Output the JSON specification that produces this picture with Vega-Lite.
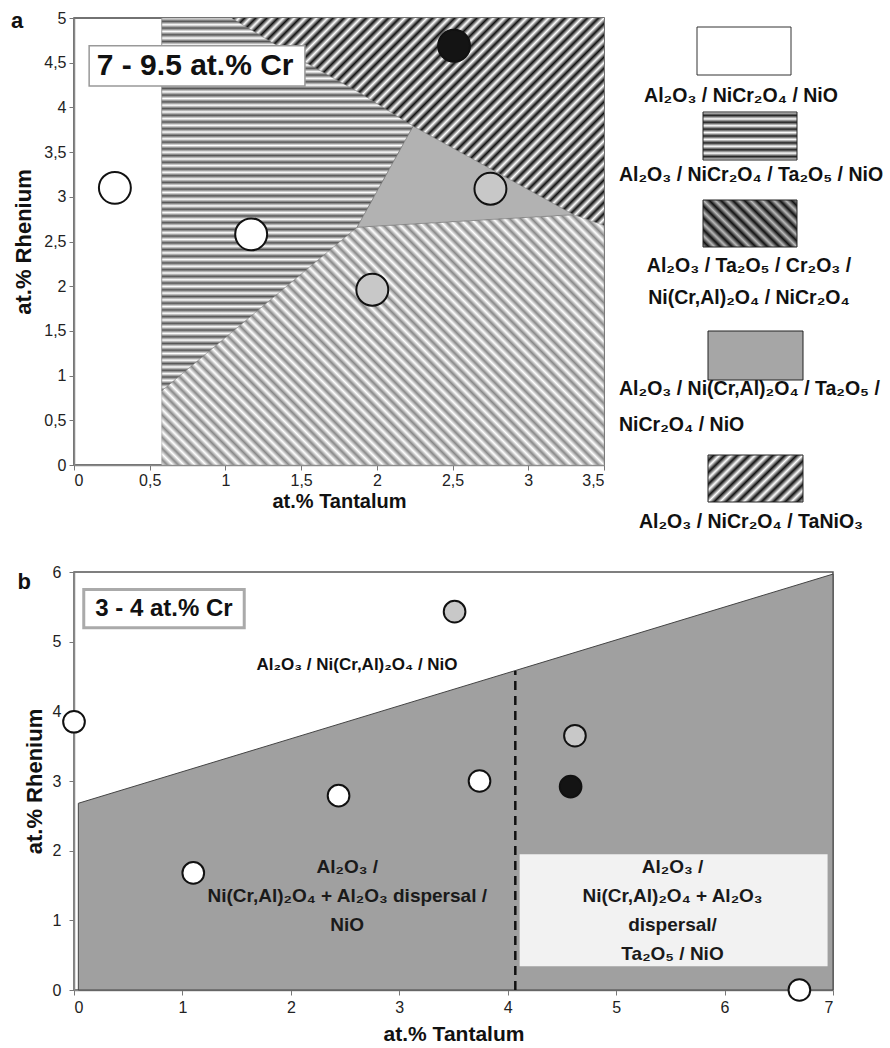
{
  "$schema": "https://vega.github.io/schema/vega-lite/v6.json",
  "background": "white",
  "padding": {"left": 10, "top": 8, "right": 0, "bottom": 0},
  "config": {
    "font": "Liberation Sans",
    "view": {"stroke": "#555", "strokeWidth": 1.5},
    "axis": {"grid": false, "domainColor": "#888", "domainWidth": 1.5, "tickColor": "#777", "tickSize": 5, "labelFont": "Liberation Sans", "labelFontSize": 16, "labelColor": "#222", "titleFont": "Liberation Sans", "titleFontWeight": "bold", "titleColor": "#111"}
  },
  "datasets": {
    "aBack": [{"zone": "Al2O3 / NiCr2O4 / TaNiO3", "x": 0.58, "x2": 3.5, "y": 0, "y2": 5}],
    "aZones": [
      {"zone": "grey", "i": 1, "x": 0.58, "y": 0},
      {"zone": "grey", "i": 2, "x": 3.5, "y": 0},
      {"zone": "grey", "i": 3, "x": 3.5, "y": 2.68},
      {"zone": "grey", "i": 4, "x": 3.3, "y": 2.8},
      {"zone": "grey", "i": 5, "x": 1.87, "y": 2.66},
      {"zone": "grey", "i": 6, "x": 0.58, "y": 5},
      {"zone": "horiz", "i": 1, "x": 0.58, "y": 5},
      {"zone": "horiz", "i": 2, "x": 1.04, "y": 5},
      {"zone": "horiz", "i": 3, "x": 1.5, "y": 4.53},
      {"zone": "horiz", "i": 4, "x": 1.9, "y": 4.15},
      {"zone": "horiz", "i": 5, "x": 2.24, "y": 3.79},
      {"zone": "horiz", "i": 6, "x": 1.87, "y": 2.66},
      {"zone": "horiz", "i": 7, "x": 0.58, "y": 0.83},
      {"zone": "stipple", "i": 1, "x": 1.87, "y": 2.66},
      {"zone": "stipple", "i": 2, "x": 2.24, "y": 3.79},
      {"zone": "stipple", "i": 3, "x": 3.3, "y": 2.8}
    ],
    "aPoints": [
      {"x": 0.27, "y": 3.1, "marker": "open"},
      {"x": 1.17, "y": 2.58, "marker": "open"},
      {"x": 1.97, "y": 1.96, "marker": "shaded"},
      {"x": 2.75, "y": 3.09, "marker": "shaded"},
      {"x": 2.51, "y": 4.69, "marker": "solid"}
    ],
    "bZones": [
      {"i": 1, "x": 0.04, "y": 0},
      {"i": 2, "x": 0.04, "y": 2.68},
      {"i": 3, "x": 7, "y": 5.97},
      {"i": 4, "x": 7, "y": 0}
    ],
    "bPoints": [
      {"x": 0, "y": 3.85, "marker": "open"},
      {"x": 1.1, "y": 1.68, "marker": "open"},
      {"x": 2.44, "y": 2.79, "marker": "open"},
      {"x": 3.74, "y": 3.0, "marker": "open"},
      {"x": 3.51, "y": 5.43, "marker": "shaded"},
      {"x": 4.62, "y": 3.65, "marker": "shaded"},
      {"x": 4.58, "y": 2.92, "marker": "solid"},
      {"x": 6.69, "y": 0, "marker": "open"}
    ],
    "legendSwatches": [
      {"sw": "s1", "x": 81, "x2": 175, "y": 9, "y2": 57},
      {"sw": "s2", "x": 87, "x2": 181, "y": 94, "y2": 142},
      {"sw": "s3", "x": 87, "x2": 181, "y": 182, "y2": 229},
      {"sw": "s4", "x": 92, "x2": 187, "y": 313, "y2": 362},
      {"sw": "s5", "x": 92, "x2": 187, "y": 437, "y2": 484}
    ],
    "legendLabels": [
      {"x": 125, "y": 78, "label": "Al₂O₃ / NiCr₂O₄ / NiO"},
      {"x": 135, "y": 157, "label": "Al₂O₃ / NiCr₂O₄ / Ta₂O₅ / NiO"},
      {"x": 133, "y": 248, "label": "Al₂O₃ / Ta₂O₅ / Cr₂O₃ /\nNi(Cr,Al)₂O₄ / NiCr₂O₄"},
      {"x": 135, "y": 504, "label": "Al₂O₃ / NiCr₂O₄ / TaNiO₃"}
    ],
    "legendLabelsLeft": [
      {"x": 3, "y": 371, "label": "Al₂O₃ / Ni(Cr,Al)₂O₄ / Ta₂O₅ /\nNiCr₂O₄ / NiO"}
    ]
  },
  "resolve": {"scale": {"x": "independent", "y": "independent"}},
  "spacing": 31,
  "vconcat": [
    {
      "resolve": {"scale": {"x": "independent", "y": "independent"}},
      "spacing": 10,
      "hconcat": [
        {
          "width": 530,
          "height": 447,
          "view": {"stroke": "#444", "strokeWidth": 1.5},
          "encoding": {
            "x": {"field": "x", "type": "quantitative", "scale": {"domain": [0, 3.5], "nice": false, "zero": false}, "axis": {"title": "at.% Tantalum", "values": [0, 0.5, 1, 1.5, 2, 2.5, 3, 3.5], "labelExpr": "replace(format(datum.value, '~g'), '.', ',')", "titleFontSize": 20, "titlePadding": 3, "labelPadding": 2}},
            "y": {"field": "y", "type": "quantitative", "scale": {"domain": [0, 5], "nice": false, "zero": false}, "axis": {"title": "at.% Rhenium", "values": [0, 0.5, 1, 1.5, 2, 2.5, 3, 3.5, 4, 4.5, 5], "labelExpr": "replace(format(datum.value, '~g'), '.', ',')", "titleFontSize": 22, "titlePadding": 8, "labelPadding": 3}}
          },
          "layer": [
            {
              "data": {"name": "aBack"},
              "mark": {"type": "rect", "fill": {"gradient": "linear", "x1": 0, "y1": 0, "x2": 1, "y2": 1, "stops": [
                {"offset":0,"color":"#fff"},{"offset":0.00625,"color":"#111"},{"offset":0.0125,"color":"#fff"},{"offset":0.01875,"color":"#111"},{"offset":0.025,"color":"#fff"},{"offset":0.03125,"color":"#111"},{"offset":0.0375,"color":"#fff"},{"offset":0.04375,"color":"#111"},
                {"offset":0.05,"color":"#fff"},{"offset":0.05625,"color":"#111"},{"offset":0.0625,"color":"#fff"},{"offset":0.06875,"color":"#111"},{"offset":0.075,"color":"#fff"},{"offset":0.08125,"color":"#111"},{"offset":0.0875,"color":"#fff"},{"offset":0.09375,"color":"#111"},
                {"offset":0.1,"color":"#fff"},{"offset":0.10625,"color":"#111"},{"offset":0.1125,"color":"#fff"},{"offset":0.11875,"color":"#111"},{"offset":0.125,"color":"#fff"},{"offset":0.13125,"color":"#111"},{"offset":0.1375,"color":"#fff"},{"offset":0.14375,"color":"#111"},
                {"offset":0.15,"color":"#fff"},{"offset":0.15625,"color":"#111"},{"offset":0.1625,"color":"#fff"},{"offset":0.16875,"color":"#111"},{"offset":0.175,"color":"#fff"},{"offset":0.18125,"color":"#111"},{"offset":0.1875,"color":"#fff"},{"offset":0.19375,"color":"#111"},
                {"offset":0.2,"color":"#fff"},{"offset":0.20625,"color":"#111"},{"offset":0.2125,"color":"#fff"},{"offset":0.21875,"color":"#111"},{"offset":0.225,"color":"#fff"},{"offset":0.23125,"color":"#111"},{"offset":0.2375,"color":"#fff"},{"offset":0.24375,"color":"#111"},
                {"offset":0.25,"color":"#fff"},{"offset":0.25625,"color":"#111"},{"offset":0.2625,"color":"#fff"},{"offset":0.26875,"color":"#111"},{"offset":0.275,"color":"#fff"},{"offset":0.28125,"color":"#111"},{"offset":0.2875,"color":"#fff"},{"offset":0.29375,"color":"#111"},
                {"offset":0.3,"color":"#fff"},{"offset":0.30625,"color":"#111"},{"offset":0.3125,"color":"#fff"},{"offset":0.31875,"color":"#111"},{"offset":0.325,"color":"#fff"},{"offset":0.33125,"color":"#111"},{"offset":0.3375,"color":"#fff"},{"offset":0.34375,"color":"#111"},
                {"offset":0.35,"color":"#fff"},{"offset":0.35625,"color":"#111"},{"offset":0.3625,"color":"#fff"},{"offset":0.36875,"color":"#111"},{"offset":0.375,"color":"#fff"},{"offset":0.38125,"color":"#111"},{"offset":0.3875,"color":"#fff"},{"offset":0.39375,"color":"#111"},
                {"offset":0.4,"color":"#fff"},{"offset":0.40625,"color":"#111"},{"offset":0.4125,"color":"#fff"},{"offset":0.41875,"color":"#111"},{"offset":0.425,"color":"#fff"},{"offset":0.43125,"color":"#111"},{"offset":0.4375,"color":"#fff"},{"offset":0.44375,"color":"#111"},
                {"offset":0.45,"color":"#fff"},{"offset":0.45625,"color":"#111"},{"offset":0.4625,"color":"#fff"},{"offset":0.46875,"color":"#111"},{"offset":0.475,"color":"#fff"},{"offset":0.48125,"color":"#111"},{"offset":0.4875,"color":"#fff"},{"offset":0.49375,"color":"#111"},
                {"offset":0.5,"color":"#fff"},{"offset":0.50625,"color":"#111"},{"offset":0.5125,"color":"#fff"},{"offset":0.51875,"color":"#111"},{"offset":0.525,"color":"#fff"},{"offset":0.53125,"color":"#111"},{"offset":0.5375,"color":"#fff"},{"offset":0.54375,"color":"#111"},
                {"offset":0.55,"color":"#fff"},{"offset":0.55625,"color":"#111"},{"offset":0.5625,"color":"#fff"},{"offset":0.56875,"color":"#111"},{"offset":0.575,"color":"#fff"},{"offset":0.58125,"color":"#111"},{"offset":0.5875,"color":"#fff"},{"offset":0.59375,"color":"#111"},
                {"offset":0.6,"color":"#fff"},{"offset":0.60625,"color":"#111"},{"offset":0.6125,"color":"#fff"},{"offset":0.61875,"color":"#111"},{"offset":0.625,"color":"#fff"},{"offset":0.63125,"color":"#111"},{"offset":0.6375,"color":"#fff"},{"offset":0.64375,"color":"#111"},
                {"offset":0.65,"color":"#fff"},{"offset":0.65625,"color":"#111"},{"offset":0.6625,"color":"#fff"},{"offset":0.66875,"color":"#111"},{"offset":0.675,"color":"#fff"},{"offset":0.68125,"color":"#111"},{"offset":0.6875,"color":"#fff"},{"offset":0.69375,"color":"#111"},
                {"offset":0.7,"color":"#fff"},{"offset":0.70625,"color":"#111"},{"offset":0.7125,"color":"#fff"},{"offset":0.71875,"color":"#111"},{"offset":0.725,"color":"#fff"},{"offset":0.73125,"color":"#111"},{"offset":0.7375,"color":"#fff"},{"offset":0.74375,"color":"#111"},
                {"offset":0.75,"color":"#fff"},{"offset":0.75625,"color":"#111"},{"offset":0.7625,"color":"#fff"},{"offset":0.76875,"color":"#111"},{"offset":0.775,"color":"#fff"},{"offset":0.78125,"color":"#111"},{"offset":0.7875,"color":"#fff"},{"offset":0.79375,"color":"#111"},
                {"offset":0.8,"color":"#fff"},{"offset":0.80625,"color":"#111"},{"offset":0.8125,"color":"#fff"},{"offset":0.81875,"color":"#111"},{"offset":0.825,"color":"#fff"},{"offset":0.83125,"color":"#111"},{"offset":0.8375,"color":"#fff"},{"offset":0.84375,"color":"#111"},
                {"offset":0.85,"color":"#fff"},{"offset":0.85625,"color":"#111"},{"offset":0.8625,"color":"#fff"},{"offset":0.86875,"color":"#111"},{"offset":0.875,"color":"#fff"},{"offset":0.88125,"color":"#111"},{"offset":0.8875,"color":"#fff"},{"offset":0.89375,"color":"#111"},
                {"offset":0.9,"color":"#fff"},{"offset":0.90625,"color":"#111"},{"offset":0.9125,"color":"#fff"},{"offset":0.91875,"color":"#111"},{"offset":0.925,"color":"#fff"},{"offset":0.93125,"color":"#111"},{"offset":0.9375,"color":"#fff"},{"offset":0.94375,"color":"#111"},
                {"offset":0.95,"color":"#fff"},{"offset":0.95625,"color":"#111"},{"offset":0.9625,"color":"#fff"},{"offset":0.96875,"color":"#111"},{"offset":0.975,"color":"#fff"},{"offset":0.98125,"color":"#111"},{"offset":0.9875,"color":"#fff"},{"offset":0.99375,"color":"#111"},
                {"offset":1,"color":"#fff"}
              ]}},
              "encoding": {"x2": {"field": "x2"}, "y2": {"field": "y2"}}
            },
            {
              "data": {"name": "aZones"},
              "transform": [{"filter": "datum.zone === 'grey'"}],
              "mark": {"type": "line", "interpolate": "linear-closed", "stroke": "#999", "strokeWidth": 0.5, "fill": {"gradient": "linear", "x1": 0, "y1": 1, "x2": 1, "y2": 0, "stops": [
                {"offset":0,"color":"#fff"},{"offset":0.00625,"color":"#888"},{"offset":0.0125,"color":"#fff"},{"offset":0.01875,"color":"#888"},{"offset":0.025,"color":"#fff"},{"offset":0.03125,"color":"#888"},{"offset":0.0375,"color":"#fff"},{"offset":0.04375,"color":"#888"},
                {"offset":0.05,"color":"#fff"},{"offset":0.05625,"color":"#888"},{"offset":0.0625,"color":"#fff"},{"offset":0.06875,"color":"#888"},{"offset":0.075,"color":"#fff"},{"offset":0.08125,"color":"#888"},{"offset":0.0875,"color":"#fff"},{"offset":0.09375,"color":"#888"},
                {"offset":0.1,"color":"#fff"},{"offset":0.10625,"color":"#888"},{"offset":0.1125,"color":"#fff"},{"offset":0.11875,"color":"#888"},{"offset":0.125,"color":"#fff"},{"offset":0.13125,"color":"#888"},{"offset":0.1375,"color":"#fff"},{"offset":0.14375,"color":"#888"},
                {"offset":0.15,"color":"#fff"},{"offset":0.15625,"color":"#888"},{"offset":0.1625,"color":"#fff"},{"offset":0.16875,"color":"#888"},{"offset":0.175,"color":"#fff"},{"offset":0.18125,"color":"#888"},{"offset":0.1875,"color":"#fff"},{"offset":0.19375,"color":"#888"},
                {"offset":0.2,"color":"#fff"},{"offset":0.20625,"color":"#888"},{"offset":0.2125,"color":"#fff"},{"offset":0.21875,"color":"#888"},{"offset":0.225,"color":"#fff"},{"offset":0.23125,"color":"#888"},{"offset":0.2375,"color":"#fff"},{"offset":0.24375,"color":"#888"},
                {"offset":0.25,"color":"#fff"},{"offset":0.25625,"color":"#888"},{"offset":0.2625,"color":"#fff"},{"offset":0.26875,"color":"#888"},{"offset":0.275,"color":"#fff"},{"offset":0.28125,"color":"#888"},{"offset":0.2875,"color":"#fff"},{"offset":0.29375,"color":"#888"},
                {"offset":0.3,"color":"#fff"},{"offset":0.30625,"color":"#888"},{"offset":0.3125,"color":"#fff"},{"offset":0.31875,"color":"#888"},{"offset":0.325,"color":"#fff"},{"offset":0.33125,"color":"#888"},{"offset":0.3375,"color":"#fff"},{"offset":0.34375,"color":"#888"},
                {"offset":0.35,"color":"#fff"},{"offset":0.35625,"color":"#888"},{"offset":0.3625,"color":"#fff"},{"offset":0.36875,"color":"#888"},{"offset":0.375,"color":"#fff"},{"offset":0.38125,"color":"#888"},{"offset":0.3875,"color":"#fff"},{"offset":0.39375,"color":"#888"},
                {"offset":0.4,"color":"#fff"},{"offset":0.40625,"color":"#888"},{"offset":0.4125,"color":"#fff"},{"offset":0.41875,"color":"#888"},{"offset":0.425,"color":"#fff"},{"offset":0.43125,"color":"#888"},{"offset":0.4375,"color":"#fff"},{"offset":0.44375,"color":"#888"},
                {"offset":0.45,"color":"#fff"},{"offset":0.45625,"color":"#888"},{"offset":0.4625,"color":"#fff"},{"offset":0.46875,"color":"#888"},{"offset":0.475,"color":"#fff"},{"offset":0.48125,"color":"#888"},{"offset":0.4875,"color":"#fff"},{"offset":0.49375,"color":"#888"},
                {"offset":0.5,"color":"#fff"},{"offset":0.50625,"color":"#888"},{"offset":0.5125,"color":"#fff"},{"offset":0.51875,"color":"#888"},{"offset":0.525,"color":"#fff"},{"offset":0.53125,"color":"#888"},{"offset":0.5375,"color":"#fff"},{"offset":0.54375,"color":"#888"},
                {"offset":0.55,"color":"#fff"},{"offset":0.55625,"color":"#888"},{"offset":0.5625,"color":"#fff"},{"offset":0.56875,"color":"#888"},{"offset":0.575,"color":"#fff"},{"offset":0.58125,"color":"#888"},{"offset":0.5875,"color":"#fff"},{"offset":0.59375,"color":"#888"},
                {"offset":0.6,"color":"#fff"},{"offset":0.60625,"color":"#888"},{"offset":0.6125,"color":"#fff"},{"offset":0.61875,"color":"#888"},{"offset":0.625,"color":"#fff"},{"offset":0.63125,"color":"#888"},{"offset":0.6375,"color":"#fff"},{"offset":0.64375,"color":"#888"},
                {"offset":0.65,"color":"#fff"},{"offset":0.65625,"color":"#888"},{"offset":0.6625,"color":"#fff"},{"offset":0.66875,"color":"#888"},{"offset":0.675,"color":"#fff"},{"offset":0.68125,"color":"#888"},{"offset":0.6875,"color":"#fff"},{"offset":0.69375,"color":"#888"},
                {"offset":0.7,"color":"#fff"},{"offset":0.70625,"color":"#888"},{"offset":0.7125,"color":"#fff"},{"offset":0.71875,"color":"#888"},{"offset":0.725,"color":"#fff"},{"offset":0.73125,"color":"#888"},{"offset":0.7375,"color":"#fff"},{"offset":0.74375,"color":"#888"},
                {"offset":0.75,"color":"#fff"},{"offset":0.75625,"color":"#888"},{"offset":0.7625,"color":"#fff"},{"offset":0.76875,"color":"#888"},{"offset":0.775,"color":"#fff"},{"offset":0.78125,"color":"#888"},{"offset":0.7875,"color":"#fff"},{"offset":0.79375,"color":"#888"},
                {"offset":0.8,"color":"#fff"},{"offset":0.80625,"color":"#888"},{"offset":0.8125,"color":"#fff"},{"offset":0.81875,"color":"#888"},{"offset":0.825,"color":"#fff"},{"offset":0.83125,"color":"#888"},{"offset":0.8375,"color":"#fff"},{"offset":0.84375,"color":"#888"},
                {"offset":0.85,"color":"#fff"},{"offset":0.85625,"color":"#888"},{"offset":0.8625,"color":"#fff"},{"offset":0.86875,"color":"#888"},{"offset":0.875,"color":"#fff"},{"offset":0.88125,"color":"#888"},{"offset":0.8875,"color":"#fff"},{"offset":0.89375,"color":"#888"},
                {"offset":0.9,"color":"#fff"},{"offset":0.90625,"color":"#888"},{"offset":0.9125,"color":"#fff"},{"offset":0.91875,"color":"#888"},{"offset":0.925,"color":"#fff"},{"offset":0.93125,"color":"#888"},{"offset":0.9375,"color":"#fff"},{"offset":0.94375,"color":"#888"},
                {"offset":0.95,"color":"#fff"},{"offset":0.95625,"color":"#888"},{"offset":0.9625,"color":"#fff"},{"offset":0.96875,"color":"#888"},{"offset":0.975,"color":"#fff"},{"offset":0.98125,"color":"#888"},{"offset":0.9875,"color":"#fff"},{"offset":0.99375,"color":"#888"},
                {"offset":1,"color":"#fff"}
              ]}},
              "encoding": {"order": {"field": "i", "type": "quantitative"}}
            },
            {
              "data": {"name": "aZones"},
              "transform": [{"filter": "datum.zone === 'horiz'"}],
              "mark": {"type": "line", "interpolate": "linear-closed", "stroke": "#777", "strokeWidth": 0.5, "fill": {"gradient": "linear", "x1": 0, "y1": 0, "x2": 0, "y2": 1, "stops": [
                {"offset":0,"color":"#fff"},{"offset":0.009,"color":"#555"},{"offset":0.018,"color":"#fff"},{"offset":0.027,"color":"#555"},{"offset":0.036,"color":"#fff"},{"offset":0.045,"color":"#555"},{"offset":0.054,"color":"#fff"},{"offset":0.063,"color":"#555"},{"offset":0.072,"color":"#fff"},{"offset":0.081,"color":"#555"},
                {"offset":0.09,"color":"#fff"},{"offset":0.099,"color":"#555"},{"offset":0.108,"color":"#fff"},{"offset":0.117,"color":"#555"},{"offset":0.126,"color":"#fff"},{"offset":0.135,"color":"#555"},{"offset":0.144,"color":"#fff"},{"offset":0.153,"color":"#555"},{"offset":0.162,"color":"#fff"},{"offset":0.171,"color":"#555"},
                {"offset":0.18,"color":"#fff"},{"offset":0.189,"color":"#555"},{"offset":0.198,"color":"#fff"},{"offset":0.207,"color":"#555"},{"offset":0.216,"color":"#fff"},{"offset":0.225,"color":"#555"},{"offset":0.234,"color":"#fff"},{"offset":0.243,"color":"#555"},{"offset":0.252,"color":"#fff"},{"offset":0.261,"color":"#555"},
                {"offset":0.27,"color":"#fff"},{"offset":0.279,"color":"#555"},{"offset":0.288,"color":"#fff"},{"offset":0.297,"color":"#555"},{"offset":0.306,"color":"#fff"},{"offset":0.315,"color":"#555"},{"offset":0.324,"color":"#fff"},{"offset":0.333,"color":"#555"},{"offset":0.342,"color":"#fff"},{"offset":0.351,"color":"#555"},
                {"offset":0.36,"color":"#fff"},{"offset":0.369,"color":"#555"},{"offset":0.378,"color":"#fff"},{"offset":0.387,"color":"#555"},{"offset":0.396,"color":"#fff"},{"offset":0.405,"color":"#555"},{"offset":0.414,"color":"#fff"},{"offset":0.423,"color":"#555"},{"offset":0.432,"color":"#fff"},{"offset":0.441,"color":"#555"},
                {"offset":0.45,"color":"#fff"},{"offset":0.459,"color":"#555"},{"offset":0.468,"color":"#fff"},{"offset":0.477,"color":"#555"},{"offset":0.486,"color":"#fff"},{"offset":0.495,"color":"#555"},{"offset":0.504,"color":"#fff"},{"offset":0.513,"color":"#555"},{"offset":0.522,"color":"#fff"},{"offset":0.531,"color":"#555"},
                {"offset":0.54,"color":"#fff"},{"offset":0.549,"color":"#555"},{"offset":0.558,"color":"#fff"},{"offset":0.567,"color":"#555"},{"offset":0.576,"color":"#fff"},{"offset":0.585,"color":"#555"},{"offset":0.594,"color":"#fff"},{"offset":0.603,"color":"#555"},{"offset":0.612,"color":"#fff"},{"offset":0.621,"color":"#555"},
                {"offset":0.63,"color":"#fff"},{"offset":0.639,"color":"#555"},{"offset":0.648,"color":"#fff"},{"offset":0.657,"color":"#555"},{"offset":0.666,"color":"#fff"},{"offset":0.675,"color":"#555"},{"offset":0.684,"color":"#fff"},{"offset":0.693,"color":"#555"},{"offset":0.702,"color":"#fff"},{"offset":0.711,"color":"#555"},
                {"offset":0.72,"color":"#fff"},{"offset":0.729,"color":"#555"},{"offset":0.738,"color":"#fff"},{"offset":0.747,"color":"#555"},{"offset":0.756,"color":"#fff"},{"offset":0.765,"color":"#555"},{"offset":0.774,"color":"#fff"},{"offset":0.783,"color":"#555"},{"offset":0.792,"color":"#fff"},{"offset":0.801,"color":"#555"},
                {"offset":0.81,"color":"#fff"},{"offset":0.819,"color":"#555"},{"offset":0.828,"color":"#fff"},{"offset":0.837,"color":"#555"},{"offset":0.846,"color":"#fff"},{"offset":0.855,"color":"#555"},{"offset":0.864,"color":"#fff"},{"offset":0.873,"color":"#555"},{"offset":0.882,"color":"#fff"},{"offset":0.891,"color":"#555"},
                {"offset":0.9,"color":"#fff"},{"offset":0.909,"color":"#555"},{"offset":0.918,"color":"#fff"},{"offset":0.927,"color":"#555"},{"offset":0.936,"color":"#fff"},{"offset":0.945,"color":"#555"},{"offset":0.954,"color":"#fff"},{"offset":0.963,"color":"#555"},{"offset":0.972,"color":"#fff"},{"offset":0.981,"color":"#555"},
                {"offset":0.99,"color":"#fff"},{"offset":0.999,"color":"#555"},{"offset":1,"color":"#555"}
              ]}},
              "encoding": {"order": {"field": "i", "type": "quantitative"}}
            },
            {
              "data": {"name": "aZones"},
              "transform": [{"filter": "datum.zone === 'stipple'"}],
              "mark": {"type": "line", "interpolate": "linear-closed", "stroke": "#777", "strokeWidth": 0.5, "fill": "#b2b2b2"},
              "encoding": {"order": {"field": "i", "type": "quantitative"}}
            },
            {
              "data": {"values": [{"x": 0.1, "x2": 1.525, "y": 4.24, "y2": 4.69}]},
              "mark": {"type": "rect", "fill": "#fff", "stroke": "#999", "strokeWidth": 1.5},
              "encoding": {"x2": {"field": "x2"}, "y2": {"field": "y2"}}
            },
            {
              "data": {"values": [{"x": 0.8, "y": 4.46, "label": "7 - 9.5 at.% Cr"}]},
              "mark": {"type": "text", "font": "Liberation Sans", "fontSize": 30, "fontWeight": "bold", "color": "#111", "align": "center", "baseline": "middle"},
              "encoding": {"text": {"field": "label"}}
            },
            {
              "data": {"name": "aPoints"},
              "mark": {"type": "point", "shape": "circle", "filled": true, "size": 1020, "stroke": "#111", "strokeWidth": 2, "opacity": 1},
              "encoding": {"fill": {"field": "marker", "type": "nominal", "scale": {"domain": ["open", "shaded", "solid"], "range": ["#ffffff", "#c8c8c8", "#141414"]}, "legend": null}}
            },
            {
              "data": {"values": [{"x": -0.376, "y": 4.97, "label": "a"}]},
              "mark": {"type": "text", "font": "Liberation Sans", "fontSize": 22, "fontWeight": "bold", "color": "#111", "align": "center", "baseline": "middle"},
              "encoding": {"text": {"field": "label"}}
            }
          ]
        },
        {
          "width": 275,
          "height": 447,
          "view": {"stroke": null},
          "encoding": {
            "x": {"field": "x", "type": "quantitative", "scale": {"domain": [0, 275], "nice": false, "zero": false}, "axis": null},
            "y": {"field": "y", "type": "quantitative", "scale": {"domain": [0, 447], "reverse": true, "nice": false, "zero": false}, "axis": null}
          },
          "layer": [
            {
              "data": {"name": "legendSwatches"},
              "transform": [{"filter": "datum.sw === 's1'"}],
              "mark": {"type": "rect", "fill": "#fff", "stroke": "#333", "strokeWidth": 1},
              "encoding": {"x2": {"field": "x2"}, "y2": {"field": "y2"}}
            },
            {
              "data": {"name": "legendSwatches"},
              "transform": [{"filter": "datum.sw === 's2'"}],
              "mark": {"type": "rect", "stroke": "#222", "strokeWidth": 1, "fill": {"gradient": "linear", "x1": 0, "y1": 0, "x2": 0, "y2": 1, "stops": [
                {"offset":0,"color":"#fff"},{"offset":0.071,"color":"#222"},{"offset":0.143,"color":"#fff"},{"offset":0.214,"color":"#222"},{"offset":0.286,"color":"#fff"},{"offset":0.357,"color":"#222"},{"offset":0.429,"color":"#fff"},{"offset":0.5,"color":"#222"},{"offset":0.571,"color":"#fff"},{"offset":0.643,"color":"#222"},{"offset":0.714,"color":"#fff"},{"offset":0.786,"color":"#222"},{"offset":0.857,"color":"#fff"},{"offset":0.929,"color":"#222"},{"offset":1,"color":"#fff"}
              ]}},
              "encoding": {"x2": {"field": "x2"}, "y2": {"field": "y2"}}
            },
            {
              "data": {"name": "legendSwatches"},
              "transform": [{"filter": "datum.sw === 's3'"}],
              "mark": {"type": "rect", "stroke": "#222", "strokeWidth": 1, "fill": {"gradient": "linear", "x1": 0, "y1": 1, "x2": 1.2, "y2": 0.4, "stops": [
                {"offset":0,"color":"#bbb"},{"offset":0.042,"color":"#111"},{"offset":0.083,"color":"#bbb"},{"offset":0.125,"color":"#111"},{"offset":0.167,"color":"#bbb"},{"offset":0.208,"color":"#111"},{"offset":0.25,"color":"#bbb"},{"offset":0.292,"color":"#111"},{"offset":0.333,"color":"#bbb"},{"offset":0.375,"color":"#111"},{"offset":0.417,"color":"#bbb"},{"offset":0.458,"color":"#111"},{"offset":0.5,"color":"#bbb"},{"offset":0.542,"color":"#111"},{"offset":0.583,"color":"#bbb"},{"offset":0.625,"color":"#111"},{"offset":0.667,"color":"#bbb"},{"offset":0.708,"color":"#111"},{"offset":0.75,"color":"#bbb"},{"offset":0.792,"color":"#111"},{"offset":0.833,"color":"#bbb"},{"offset":0.875,"color":"#111"},{"offset":0.917,"color":"#bbb"},{"offset":0.958,"color":"#111"},{"offset":1,"color":"#bbb"}
              ]}},
              "encoding": {"x2": {"field": "x2"}, "y2": {"field": "y2"}}
            },
            {
              "data": {"name": "legendSwatches"},
              "transform": [{"filter": "datum.sw === 's4'"}],
              "mark": {"type": "rect", "fill": "#a6a6a6", "stroke": "#222", "strokeWidth": 1},
              "encoding": {"x2": {"field": "x2"}, "y2": {"field": "y2"}}
            },
            {
              "data": {"name": "legendSwatches"},
              "transform": [{"filter": "datum.sw === 's5'"}],
              "mark": {"type": "rect", "stroke": "#222", "strokeWidth": 1, "fill": {"gradient": "linear", "x1": 0, "y1": 0, "x2": 1.2, "y2": 0.6, "stops": [
                {"offset":0,"color":"#fff"},{"offset":0.042,"color":"#111"},{"offset":0.083,"color":"#fff"},{"offset":0.125,"color":"#111"},{"offset":0.167,"color":"#fff"},{"offset":0.208,"color":"#111"},{"offset":0.25,"color":"#fff"},{"offset":0.292,"color":"#111"},{"offset":0.333,"color":"#fff"},{"offset":0.375,"color":"#111"},{"offset":0.417,"color":"#fff"},{"offset":0.458,"color":"#111"},{"offset":0.5,"color":"#fff"},{"offset":0.542,"color":"#111"},{"offset":0.583,"color":"#fff"},{"offset":0.625,"color":"#111"},{"offset":0.667,"color":"#fff"},{"offset":0.708,"color":"#111"},{"offset":0.75,"color":"#fff"},{"offset":0.792,"color":"#111"},{"offset":0.833,"color":"#fff"},{"offset":0.875,"color":"#111"},{"offset":0.917,"color":"#fff"},{"offset":0.958,"color":"#111"},{"offset":1,"color":"#fff"}
              ]}},
              "encoding": {"x2": {"field": "x2"}, "y2": {"field": "y2"}}
            },
            {
              "data": {"name": "legendLabels"},
              "mark": {"type": "text", "font": "Liberation Sans", "fontSize": 19.5, "fontWeight": "bold", "color": "#111", "align": "center", "baseline": "middle", "lineBreak": "\n", "lineHeight": 32},
              "encoding": {"text": {"field": "label"}}
            },
            {
              "data": {"name": "legendLabelsLeft"},
              "mark": {"type": "text", "font": "Liberation Sans", "fontSize": 19.5, "fontWeight": "bold", "color": "#111", "align": "left", "baseline": "middle", "lineBreak": "\n", "lineHeight": 36},
              "encoding": {"text": {"field": "label"}}
            }
          ]
        }
      ]
    },
    {
      "width": 759,
      "height": 418,
      "view": {"stroke": "#555", "strokeWidth": 1.5},
      "encoding": {
        "x": {"field": "x", "type": "quantitative", "scale": {"domain": [0, 7], "nice": false, "zero": false}, "axis": {"title": "at.% Tantalum", "values": [0, 1, 2, 3, 4, 5, 6, 7], "titleFontSize": 21, "titlePadding": 8, "labelPadding": 4}},
        "y": {"field": "y", "type": "quantitative", "scale": {"domain": [0, 6], "nice": false, "zero": false}, "axis": {"title": "at.% Rhenium", "values": [0, 1, 2, 3, 4, 5, 6], "titleFontSize": 22, "titlePadding": 6, "labelPadding": 8}}
      },
      "layer": [
        {
          "data": {"name": "bZones"},
          "mark": {"type": "line", "interpolate": "linear-closed", "stroke": "#444", "strokeWidth": 1, "fill": "#a0a0a0"},
          "encoding": {"order": {"field": "i", "type": "quantitative"}}
        },
        {
          "data": {"values": [{"x": 4.11, "x2": 6.95, "y": 0.34, "y2": 1.95}]},
          "mark": {"type": "rect", "fill": "#f2f2f2"},
          "encoding": {"x2": {"field": "x2"}, "y2": {"field": "y2"}}
        },
        {
          "data": {"values": [{"x": 4.07, "y": 0, "y2": 4.58}]},
          "mark": {"type": "rule", "color": "#111", "strokeWidth": 2.5, "strokeDash": [9, 6]},
          "encoding": {"y2": {"field": "y2"}}
        },
        {
          "data": {"values": [{"x": 0.09, "x2": 1.57, "y": 5.2, "y2": 5.75}]},
          "mark": {"type": "rect", "fill": "#fff", "stroke": "#aaa", "strokeWidth": 3},
          "encoding": {"x2": {"field": "x2"}, "y2": {"field": "y2"}}
        },
        {
          "data": {"values": [{"x": 0.83, "y": 5.47, "label": "3 - 4 at.% Cr"}]},
          "mark": {"type": "text", "font": "Liberation Sans", "fontSize": 24, "fontWeight": "bold", "color": "#111", "align": "center", "baseline": "middle"},
          "encoding": {"text": {"field": "label"}}
        },
        {
          "data": {"values": [{"x": 2.61, "y": 4.66, "label": "Al₂O₃ / Ni(Cr,Al)₂O₄ / NiO"}]},
          "mark": {"type": "text", "font": "Liberation Sans", "fontSize": 17, "fontWeight": "bold", "color": "#111", "align": "center", "baseline": "middle"},
          "encoding": {"text": {"field": "label"}}
        },
        {
          "data": {"values": [
            {"x": 2.52, "y": 1.77, "label": "Al₂O₃ /\nNi(Cr,Al)₂O₄ + Al₂O₃ dispersal /\nNiO"},
            {"x": 5.52, "y": 1.77, "label": "Al₂O₃ /\nNi(Cr,Al)₂O₄ + Al₂O₃\ndispersal/\nTa₂O₅ / NiO"}
          ]},
          "mark": {"type": "text", "font": "Liberation Sans", "fontSize": 19, "fontWeight": "bold", "color": "#1a1a1a", "align": "center", "baseline": "middle", "lineBreak": "\n", "lineHeight": 29},
          "encoding": {"text": {"field": "label"}}
        },
        {
          "data": {"name": "bPoints"},
          "mark": {"type": "point", "shape": "circle", "filled": true, "size": 470, "stroke": "#111", "strokeWidth": 2, "opacity": 1},
          "encoding": {"fill": {"field": "marker", "type": "nominal", "scale": {"domain": ["open", "shaded", "solid"], "range": ["#ffffff", "#c8c8c8", "#141414"]}, "legend": null}}
        },
        {
          "data": {"values": [{"x": -0.46, "y": 5.86, "label": "b"}]},
          "mark": {"type": "text", "font": "Liberation Sans", "fontSize": 22, "fontWeight": "bold", "color": "#111", "align": "center", "baseline": "middle"},
          "encoding": {"text": {"field": "label"}}
        }
      ]
    }
  ]
}
